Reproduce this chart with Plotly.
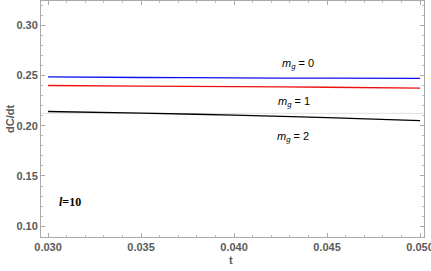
import plotly.graph_objects as go

t_vals = [0.030, 0.035, 0.040, 0.045, 0.050]
mg0 = [0.2487, 0.2481, 0.2477, 0.2474, 0.2472]
mg1 = [0.2401, 0.2395, 0.2390, 0.2384, 0.2376]
mg2 = [0.2142, 0.2126, 0.2106, 0.2081, 0.2051]
ref_line = 0.2124
x_ticks = [0.030, 0.035, 0.040, 0.045, 0.050]
y_ticks = [0.10, 0.15, 0.20, 0.25, 0.30]

fig = go.Figure()
fig.add_trace(go.Scatter(x=[0.0296, 0.0503], y=[ref_line, ref_line], mode="lines",
                         line=dict(color="#e0e0e0", width=1), showlegend=False, hoverinfo="skip"))
for ys, c in [(mg0, "#1010ee"), (mg1, "#ee1010"), (mg2, "#000000")]:
    fig.add_trace(go.Scatter(x=t_vals, y=ys, mode="lines", line=dict(color=c, width=1.3, shape="spline"),
                             showlegend=False))

gray = "#5a5a5a"
tickfont = dict(family="Liberation Sans", size=11, color=gray)
axis_common = dict(showline=True, linecolor="#aaaaaa", linewidth=1, mirror="ticks", ticks="inside",
                   ticklen=4, tickcolor="#aaaaaa", showgrid=False, zeroline=False, tickfont=tickfont,
                   automargin=False,
                   minor=dict(ticks="inside", ticklen=2, tickcolor="#bbbbbb", nticks=5))
fig.update_layout(
    width=431, height=271, margin=dict(l=41, r=7, t=1, b=34),
    plot_bgcolor="white", paper_bgcolor="white",
    xaxis=dict(range=[0.02962, 0.05021], tickvals=x_ticks,
               ticktext=[f"<b>{v:.3f}</b>" for v in x_ticks], ticklabeloverflow="allow",
               **axis_common),
    yaxis=dict(range=[0.0892, 0.3243], tickvals=y_ticks,
               ticktext=[f"<b>{v:.2f}</b>" for v in y_ticks], ticklabeloverflow="allow",
               **axis_common),
    font=dict(family="Liberation Sans"),
)
fig.add_annotation(xref="paper", yref="paper", x=0.497, y=-0.097, yanchor="middle", text="<b>t</b>",
                   showarrow=False, font=dict(family="Liberation Sans", size=11, color=gray))
fig.add_annotation(xref="paper", yref="paper", x=-0.081, y=0.5, xanchor="center", text="<b>dC/dt</b>",
                   textangle=-90, showarrow=False, font=dict(family="Liberation Sans", size=11, color=gray))
lab_font = dict(family="Liberation Sans", size=11, color="#000000")
for txt, x, y in [("<i>m</i><sub><i>g</i></sub> = 0", 0.04344, 0.2619),
                  ("<i>m</i><sub><i>g</i></sub> = 1", 0.04323, 0.2233),
                  ("<i>m</i><sub><i>g</i></sub> = 2", 0.04317, 0.1886)]:
    fig.add_annotation(x=x, y=y, text=txt, showarrow=False, font=lab_font)
fig.add_annotation(x=0.03118, y=0.1238, text="<b><i>l</i>=10</b>", showarrow=False,
                   font=dict(family="Liberation Serif", size=12, color="#000000"))

fig.write_html("out.html", config={"displayModeBar": False},
               post_script="document.body.style.margin='0';")
